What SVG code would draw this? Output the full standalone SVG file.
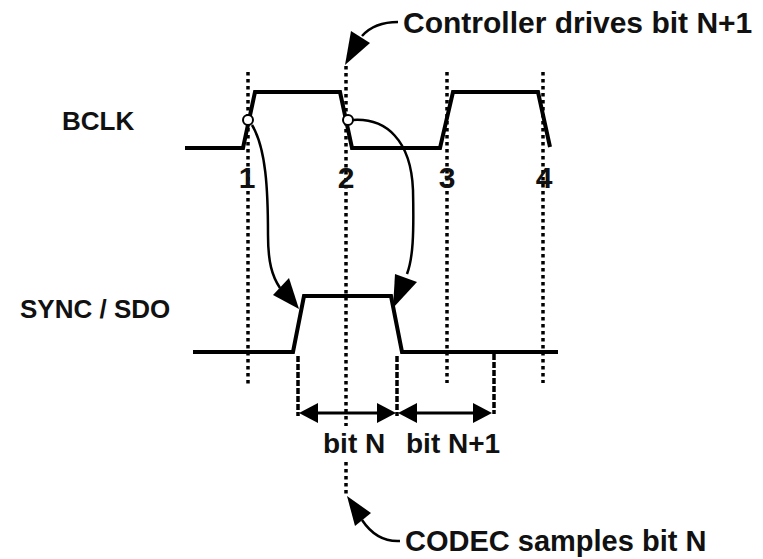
<svg xmlns="http://www.w3.org/2000/svg" width="763" height="559" viewBox="0 0 763 559">
<style>
text{font-family:"Liberation Sans",Arial,sans-serif;font-weight:bold;fill:#111}
.wave{fill:none;stroke:#000;stroke-width:4;stroke-linejoin:miter}
.grid{fill:none;stroke:#000;stroke-width:3.5;stroke-dasharray:3.5 3.5}
.bound{fill:none;stroke:#000;stroke-width:3.5;stroke-dasharray:6 2}
.conn{fill:none;stroke:#000;stroke-width:2.5}
.head{fill:#000}
.num{font-size:30px;text-anchor:middle}
</style>
<rect width="763" height="559" fill="#fff"/>
<g id="gridlines">
<line class="grid" x1="248" y1="72" x2="248" y2="386"/>
<line class="grid" x1="346" y1="66" x2="346" y2="426"/>
<line class="grid" x1="346" y1="462" x2="346" y2="496"/>
<line class="grid" x1="447" y1="72" x2="447" y2="383"/>
<line class="grid" x1="543" y1="72" x2="543" y2="383"/>
</g>
<g id="bclk">
<text x="62" y="130" font-size="26">BCLK</text>
<path class="wave" d="M185,148 L243,148 L255,92 L340,92 L352,148 L440,148 L453,92 L538,92 L550,147"/>
<circle cx="248" cy="120" r="5" fill="#fff" stroke="#000" stroke-width="2"/>
<circle cx="348" cy="120" r="5" fill="#fff" stroke="#000" stroke-width="2"/>
<text class="num" x="247" y="188">1</text>
<text class="num" x="346" y="188">2</text>
<text class="num" x="447" y="188">3</text>
<text class="num" x="544" y="188">4</text>
</g>
<g id="sync">
<text x="20" y="318" font-size="26">SYNC / SDO</text>
<path class="wave" d="M193,352 L293,352 L304,296 L391,296 L402,352 L558,352"/>
</g>
<g id="bits">
<line class="bound" x1="298" y1="356" x2="298" y2="416"/>
<line class="bound" x1="397" y1="356" x2="397" y2="416"/>
<line class="bound" x1="494" y1="354" x2="494" y2="414"/>
<text x="323" y="453" font-size="28">bit N</text>
<text x="406" y="453" font-size="28">bit N+1</text>
</g>
<g id="connectors">
<line x1="310" y1="413" x2="385" y2="413" stroke="#000" stroke-width="3"/>
<path class="head" d="M299,413 L318,403 L318,423 Z"/>
<path class="head" d="M396,413 L377,403 L377,423 Z"/>
<line x1="409" y1="413" x2="481" y2="413" stroke="#000" stroke-width="3"/>
<path class="head" d="M398,413 L417,403 L417,423 Z"/>
<path class="head" d="M492,413 L473,403 L473,423 Z"/>
<path class="conn" d="M252,125 C266,148 268,190 268,235 C268,262 272,276 280,288"/>
<path class="head" d="M299,309 L273,295 L289,278 Z"/>
<path class="conn" d="M353,120 C386,118 411,140 413,190 C414,235 413,258 407,274"/>
<path class="head" d="M393,308 L395,274 L417,282 Z"/>
<path class="conn" d="M398,22 C382,22 370,27 362,36"/>
<path class="head" d="M345,65 L351,31 L370,43 Z"/>
<path class="conn" d="M400,541 C382,542 370,532 362,520"/>
<path class="head" d="M347,496 L371,513 L355,526 Z"/>
</g>
<g id="annotations">
<text x="403" y="33" font-size="30">Controller drives bit N+1</text>
<text x="405" y="551" font-size="29">CODEC samples bit N</text>
</g>
</svg>
